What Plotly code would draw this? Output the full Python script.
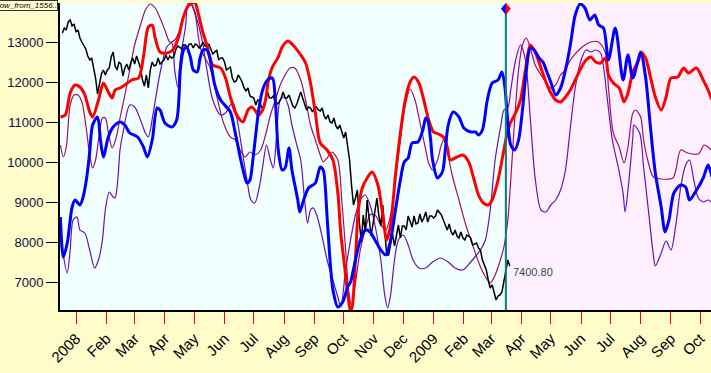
import pandas as pd
import plotly.graph_objects as go

BASE = pd.Timestamp("2008-01-01")

# ---- price series (every 2 calendar days) ----
black_start = "2007-12-18"
black_vals = [
    13225, 13350, 13300, 13500, 13550, 13400, 13450, 13250, 13300, 13100,
    13000, 12900, 12825, 12650, 12550, 12600, 12350, 12100, 11700, 12000,
    12200, 12300, 12175, 12300, 12350, 12625, 12750, 12400, 12300, 12500,
    12450, 12150, 12350, 12450, 12300, 12475, 12600, 12450, 12650, 12500,
    12350, 12050, 11900, 12175, 11850, 12300, 12500, 12400, 12425, 12600,
    12450, 12500, 12550, 12675, 12550, 12650, 12600, 12625, 12800, 12900,
    12875, 12825, 12925, 12925, 12850, 12950, 12950, 12850, 12950, 12925,
    12850, 12900, 13000, 12900, 12875, 12950, 12800, 12700, 12750, 12800,
    12550, 12600, 12600, 12500, 12300, 12350, 12375, 12100, 12000, 12025,
    12175, 12100, 12000, 11850, 11775, 11850, 11650, 11625, 11600, 11425,
    11550, 11525, 11350, 11400, 11550, 11750, 11600, 11600, 11650, 11500,
    11450, 11500, 11600, 11750, 11600, 11600, 11675, 11550, 11400, 11350,
    11450, 11600, 11750, 11600, 11475, 11300, 11375, 11350, 11250, 11350,
    11375, 11300, 11275, 11350, 11150, 11075, 11175, 11000, 10975, 11100,
    10900, 10825, 10925, 10750, 10600, 10750, 10350, 10050, 9425, 8925,
    9100, 9300, 8500, 8000, 8675, 8250, 9050, 8650, 8150, 8450,
    8850, 9100, 8650, 8400, 8925, 8300, 7675, 7675, 8000, 8200,
    7900, 8150, 8425, 8100, 8400, 8400, 8300, 8650, 8500, 8375,
    8650, 8450, 8475, 8700, 8500, 8600, 8750, 8500, 8650, 8650,
    8600, 8650, 8800, 8750, 8675, 8550, 8400, 8300, 8450, 8250,
    8175, 8300, 8150, 8100, 8250, 8100, 8050, 8175, 8150, 8100,
    7925, 7950, 7975, 7850, 7800, 7550, 7400, 7300, 7050, 6850,
    6925, 6750, 6550, 6650, 6675, 6750, 7050, 7300, 7550, 7400.80,
]

# ---- indicator lines: days since 2008-01-01 and values ----
red_days = [-16, -11, -6, -1, 4, 9, 14, 17, 23, 28, 33, 37, 40, 45, 50, 57, 64, 69, 74, 78,
            81, 86, 93, 99, 105, 109, 114, 119, 122, 125, 130, 134, 140, 148, 153, 158, 163, 168, 171, 176,
            180, 183, 187, 191, 194, 197, 201, 207, 211, 217, 222, 230, 235, 240, 245, 250, 257, 263, 268, 271,
            275, 278, 281, 283, 286, 289, 293, 298, 303, 309, 314, 318, 322, 327, 332, 337, 342, 346, 351, 356,
            361, 366, 371, 376, 380, 383, 388, 396, 402, 407, 412, 417, 422, 426, 432, 437, 441, 445, 450, 455,
            460, 465, 470, 476, 481, 486, 491, 496, 501, 506, 511, 517, 522, 527, 532, 537, 542, 545, 550, 556,
            561, 565, 570, 576, 578, 583, 588, 593, 599, 604, 609, 616, 622, 627, 635, 642, 647, 651]
red_vals = [11125, 11175, 11725, 11925, 11875, 11675, 11250, 11125, 11550, 11975, 11750, 11600, 11800, 11850, 11925, 12050, 12100, 12625, 13375, 13425,
            13100, 12750, 12725, 12800, 13125, 13550, 13875, 13975, 13975, 13725, 13225, 12925, 12425, 12350, 12100, 11625, 11250, 11050, 11000, 11300,
            11375, 11300, 11175, 11300, 11550, 12050, 12375, 12625, 12875, 13025, 12925, 12675, 12475, 11975, 11225, 10475, 10300, 10050, 9225, 8225,
            7375, 6725, 6250, 6425, 7550, 8800, 9350, 9600, 9750, 9425, 8675, 8050, 8425, 9675, 10725, 11550, 12000, 12125, 11975, 11550,
            11050, 10750, 10700, 10625, 10375, 10050, 10100, 10175, 10000, 9600, 9175, 8975, 8925, 9050, 9550, 10175, 10675, 11000, 11225, 11550,
            12300, 12925, 12750, 12350, 12000, 11725, 11550, 11500, 11625, 11800, 12050, 12350, 12550, 12625, 12500, 12475, 12600, 12175, 11975, 11850,
            11500, 11725, 12250, 12550, 12750, 12600, 12125, 11625, 11300, 11625, 12100, 12125, 12350, 12225, 12350, 12050, 11800, 11550]

blue_days = [-16, -13, -9, -4, -1, 4, 7, 11, 14, 17, 22, 25, 28, 33, 38, 45, 50, 55, 63, 69,
             73, 78, 83, 86, 91, 98, 103, 107, 110, 113, 117, 120, 124, 127, 130, 134, 137, 142, 148, 153,
             158, 163, 168, 171, 175, 178, 181, 187, 191, 196, 201, 204, 207, 211, 214, 218, 221, 227, 229, 233,
             238, 245, 250, 253, 257, 260, 263, 268, 273, 278, 281, 286, 291, 296, 301, 306, 312, 317, 322, 327,
             332, 336, 340, 344, 350, 355, 358, 360, 363, 365, 370, 375, 378, 381, 386, 392, 397, 404, 409, 412,
             416, 421, 426, 432, 436, 439, 441, 443, 445, 449, 453, 457, 461, 465, 469, 474, 478, 482, 486, 491,
             496, 501, 506, 511, 516, 521, 526, 531, 535, 540, 545, 552, 560, 565, 570, 578, 583, 588, 593, 599,
             603, 607, 612, 619, 624, 628, 634, 642, 647, 651]
blue_vals = [8625, 7625, 7975, 8875, 9050, 8925, 9100, 9625, 10250, 10925, 11125, 10550, 10125, 10625, 10875, 11000, 10925, 10725, 10625, 10375,
             10125, 10550, 11350, 11300, 10975, 10875, 11050, 12375, 12800, 12875, 12625, 12300, 12250, 12600, 12800, 12800, 12600, 11925, 11550, 11400,
             11250, 10725, 10125, 9800, 9475, 9550, 10050, 11300, 11800, 12050, 12100, 11550, 10300, 9800, 9850, 10350, 9800, 9050, 8750, 9050,
             9350, 9475, 9875, 9800, 8625, 7550, 6800, 6375, 6500, 6875, 7000, 7550, 8050, 8300, 8250, 8050, 7800, 7675, 8050, 8800,
             9550, 10000, 10100, 10475, 10500, 10800, 11100, 11050, 10550, 10050, 9600, 9750, 10300, 10925, 11250, 11125, 10850, 10750, 10750, 10675,
             10800, 11550, 11975, 12050, 12250, 11875, 11300, 10725, 10425, 10300, 10550, 11300, 12300, 12850, 12800, 12600, 12500, 12250, 12000, 11675,
             11850, 12300, 12925, 13675, 13950, 13850, 13550, 13675, 13425, 13350, 12550, 13350, 12050, 12675, 12100, 12725, 12125, 10875, 9725, 8875,
             8250, 8550, 9225, 9425, 9375, 9050, 9250, 9600, 9925, 9625]

magenta_days = [-16, -13, -10, -6, -2, 2, 6, 10, 14, 17, 20, 24, 27, 30, 33, 37, 41, 45, 50, 55,
                60, 66, 71, 76, 81, 86, 91, 96, 101, 107, 112, 117, 122, 127, 132, 137, 145, 151, 158, 163,
                168, 173, 178, 183, 189, 194, 199, 204, 209, 214, 219, 224, 230, 235, 240, 245, 250, 253, 257, 262,
                268, 272, 276, 279, 282, 285, 291, 296, 301, 306, 312, 317, 322, 327, 332, 337, 342, 347, 353, 358,
                361, 365, 370, 374, 378, 381, 385, 392, 399, 406, 412, 418, 424, 429, 435, 438, 442, 445, 449, 453,
                457, 461, 465, 470, 476, 481, 486, 491, 496, 501, 506, 517, 527, 535, 542, 545, 550, 556, 561, 565,
                570, 573, 578, 581, 586, 591, 599, 611, 614, 619, 626, 637, 643, 647, 651]
magenta_vals = [10425, 10125, 10375, 11425, 11675, 11675, 11500, 10925, 10175, 9850, 10050, 10725, 11100, 11100, 10750, 10350, 10600, 11100, 11675, 12300,
                12925, 13425, 13800, 13950, 13850, 13600, 13300, 13000, 13050, 13350, 13800, 13950, 13675, 12875, 12600, 12375, 11550, 10975, 10625, 10550,
                10300, 10125, 10250, 10175, 10300, 10675, 11175, 11550, 11925, 12175, 12350, 12350, 12050, 11550, 10925, 10550, 10175, 10000, 10100, 10250,
                10050, 9050, 7800, 6800, 6425, 6800, 7800, 8300, 8675, 8675, 8425, 8300, 8675, 9550, 10550, 11425, 11825, 11550, 10875, 10300,
                9975, 9800, 10050, 10425, 10625, 10175, 9675, 9050, 8425, 7925, 7500, 7175, 6975, 7175, 7600, 7875, 8550, 9550, 11050, 12300,
                12925, 13100, 12850, 12425, 12175, 12000, 11850, 11925, 12175, 12300, 12550, 12850, 13000, 13000, 12725, 11875, 10725, 10375, 9975, 10375,
                11225, 11300, 11125, 10550, 9975, 9625, 9575, 9600, 9800, 10300, 10225, 10200, 10425, 10375, 10275]

violet_days = [-16, -13, -9, -6, -3, 1, 4, 9, 14, 19, 23, 27, 30, 34, 38, 40, 43, 45, 48, 55,
               60, 66, 71, 74, 79, 86, 93, 98, 101, 104, 107, 112, 115, 119, 124, 129, 134, 140, 148, 153,
               158, 161, 165, 170, 175, 179, 183, 188, 191, 195, 199, 202, 205, 209, 213, 217, 221, 226, 230, 234,
               237, 240, 243, 247, 252, 257, 262, 268, 271, 276, 281, 286, 291, 296, 301, 306, 312, 316, 319, 322,
               326, 330, 335, 340, 345, 351, 358, 365, 373, 381, 388, 396, 404, 410, 414, 419, 424, 429, 435, 438,
               442, 445, 450, 455, 460, 465, 470, 476, 481, 486, 491, 496, 501, 506, 511, 517, 522, 527, 532, 537,
               540, 544, 549, 555, 560, 562, 565, 570, 571, 577, 581, 586, 591, 593, 599, 604, 609, 614, 619, 624,
               628, 632, 637, 642, 647, 651]
violet_vals = [8425, 7675, 7225, 7800, 8550, 8625, 8300, 8225, 7800, 7350, 7550, 8050, 8800, 9250, 9125, 9100, 9625, 10300, 10725, 11425,
               11375, 11050, 10725, 10625, 11225, 12225, 12875, 12975, 12300, 11875, 12625, 13375, 13975, 13925, 13550, 13050, 12300, 11550, 11175, 11225,
               11425, 11475, 11050, 10300, 9550, 9050, 8975, 9425, 9875, 10425, 10050, 9850, 10550, 11550, 11625, 11425, 10925, 10425, 10050, 9050,
               8475, 8800, 8850, 8625, 8125, 7550, 7125, 6625, 6375, 7300, 8050, 8675, 9050, 9175, 8925, 8425, 7550, 6675, 6350, 6675,
               7550, 8050, 8175, 7925, 7550, 7350, 7350, 7500, 7600, 7500, 7350, 7300, 7500, 7675, 7800, 8050, 8800, 10050, 10925, 11300,
               11350, 11800, 12550, 12925, 12550, 11100, 9600, 8800, 8750, 8925, 9050, 9300, 9800, 10850, 11850, 12550, 12800, 12750, 12800, 12725,
               12375, 11550, 10550, 9875, 9225, 8750, 9300, 10625, 10925, 10725, 9875, 8775, 7675, 7400, 7725, 8025, 7800, 8425, 9375, 9925,
               10050, 9600, 9100, 9000, 9050, 8975]

tick_dates = ["2008-01-01", "2008-02-01", "2008-03-01", "2008-04-01", "2008-05-01", "2008-06-01",
              "2008-07-01", "2008-08-01", "2008-09-01", "2008-10-01", "2008-11-01", "2008-12-01",
              "2009-01-01", "2009-02-01", "2009-03-01", "2009-04-01", "2009-05-01", "2009-06-01",
              "2009-07-01", "2009-08-01", "2009-09-01", "2009-10-01"]
tick_text = ["2008", "Feb", "Mar", "Apr", "May", "Jun", "Jul", "Aug", "Sep", "Oct", "Nov", "Dec",
             "2009", "Feb", "Mar", "Apr", "May", "Jun", "Jul", "Aug", "Sep", "Oct"]
y_ticks = [7000, 8000, 9000, 10000, 11000, 12000, 13000]
y_tick_text = ["7000", "8000", "9000", "10000", "11000", "12000", "13000"]

current_date = "2009-03-16"
last_label = "7400.80"
series_name = "Flow_from_1556.."


def to_dates(days):
    return [BASE + pd.Timedelta(days=d) for d in days]


black_dates = pd.date_range(black_start, periods=len(black_vals), freq="2D")

fig = go.Figure()
fig.add_trace(go.Scatter(x=to_dates(violet_days), y=violet_vals, mode="lines",
                         line=dict(color="#6611BB", width=1.2, shape="spline", smoothing=0.8)))
fig.add_trace(go.Scatter(x=to_dates(magenta_days), y=magenta_vals, mode="lines",
                         line=dict(color="#A0106A", width=1.2, shape="spline", smoothing=0.8)))
fig.add_trace(go.Scatter(x=black_dates, y=black_vals, mode="lines",
                         line=dict(color="#000000", width=1.5)))
fig.add_trace(go.Scatter(x=to_dates(red_days), y=red_vals, mode="lines",
                         line=dict(color="#FF0000", width=3, shape="spline", smoothing=0.8)))
fig.add_trace(go.Scatter(x=to_dates(blue_days), y=blue_vals, mode="lines",
                         line=dict(color="#0000FF", width=3, shape="spline", smoothing=0.8)))

x_range = [pd.Timestamp("2007-12-15 14:00"), pd.Timestamp("2009-10-12")]

shapes = [
    dict(type="rect", xref="x", yref="paper", x0=current_date, x1=x_range[1], y0=0, y1=1,
         fillcolor="#FFF0FF", line=dict(width=0), layer="below"),
    dict(type="line", xref="x", yref="paper", x0=current_date, x1=current_date, y0=0, y1=0.985,
         line=dict(color="#008080", width=2)),
    dict(type="path", xref="x", yref="y", xsizemode="pixel", ysizemode="pixel",
         xanchor=current_date, yanchor=13830, path="M0,-6 L-5,0 L0,6 Z",
         fillcolor="#0000FF", line=dict(width=0)),
    dict(type="path", xref="x", yref="y", xsizemode="pixel", ysizemode="pixel",
         xanchor=current_date, yanchor=13830, path="M0,-6 L5,0 L0,6 Z",
         fillcolor="#FF0000", line=dict(width=0)),
]

annotations = [
    dict(x=black_dates[-1], y=black_vals[-1], xref="x", yref="y", text=last_label,
         showarrow=False, xanchor="left", yanchor="middle", xshift=1, yshift=-6,
         font=dict(family="Liberation Sans, Arial", size=11, color="#2A4A6A")),
    dict(x=-0.003, y=1.0098, xref="paper", yref="paper", text="<i>" + series_name + "</i>",
         showarrow=False, xanchor="right", yanchor="top",
         bgcolor="#FFFFD0", bordercolor="#333333", borderwidth=1, borderpad=0,
         font=dict(family="Liberation Sans, Arial", size=8, color="#000000")),
]

fig.update_layout(
    width=711, height=373,
    margin=dict(l=60, r=0, t=3, b=63, autoexpand=False),
    paper_bgcolor="#FFFCCC",
    plot_bgcolor="#F2FFFF",
    showlegend=False,
    shapes=shapes,
    annotations=annotations,
    xaxis=dict(type="date", range=x_range, tickvals=tick_dates, ticktext=tick_text,
               tickangle=-45, ticks="outside", ticklen=12, tickcolor="#FF0000", tickwidth=1,
               showgrid=False, zeroline=False, showline=True, linecolor="#000000", linewidth=2,
               automargin=False,
               tickfont=dict(family="Liberation Sans, Arial", size=15, color="#000000")),
    yaxis=dict(range=[6300, 13975], tickvals=y_ticks, ticktext=y_tick_text, ticks="outside", ticklen=12,
               tickcolor="#000000", tickwidth=1, showgrid=False, zeroline=False,
               showline=True, linecolor="#000000", linewidth=2, automargin=False,
               tickfont=dict(family="Liberation Sans, Arial", size=13, color="#101040")),
)

fig.write_html("out.html", config={"displayModeBar": False},
               post_script="document.body.style.margin='0';document.body.style.background='#FFFCCC';")
